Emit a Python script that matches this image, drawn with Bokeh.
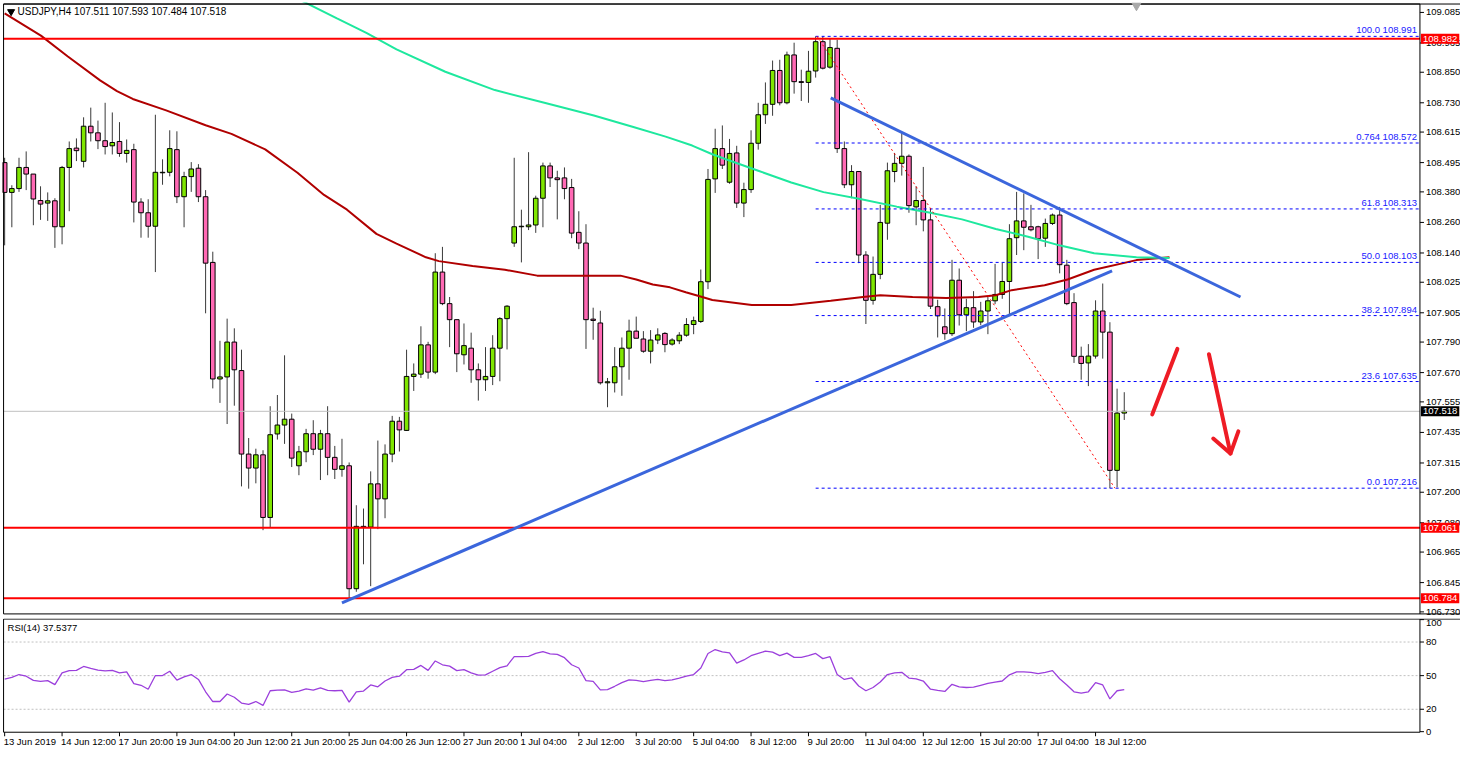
from bokeh.plotting import figure
from bokeh.layouts import column
from bokeh.models import Range1d, Label
from bokeh.embed import file_html
from bokeh.resources import INLINE
from bokeh.core.properties import value

# ---------------- data (USDJPY H4) ----------------
opens = [108.495,108.378,108.393,108.476,108.450,108.346,108.336,108.345,108.243,108.476,
         108.552,108.500,108.638,108.612,108.581,108.561,108.578,108.531,108.546,108.340,
         108.298,108.245,108.455,108.457,108.546,108.361,108.440,108.473,108.361,108.103,
         107.645,107.653,107.790,107.678,107.350,107.295,107.347,107.101,107.429,107.464,
         107.487,107.304,107.359,107.430,107.369,107.430,107.337,107.290,107.304,106.821,
         107.066,107.063,107.233,107.174,107.350,107.479,107.443,107.655,107.664,107.779,
         107.672,108.065,107.941,107.878,107.740,107.766,107.681,107.642,107.655,107.766,
         107.882,108.179,108.243,108.243,108.250,108.355,108.482,108.435,108.435,108.397,
         108.221,108.179,107.880,107.865,107.630,107.630,107.693,107.766,107.833,107.802,
         107.754,107.798,107.824,107.782,107.795,107.817,107.859,107.871,108.027,108.431,
         108.550,108.418,108.533,108.336,108.389,108.571,108.683,108.724,108.857,108.730,
         108.918,108.813,108.810,108.855,108.970,108.870,108.944,108.550,108.408,108.460,
         108.132,107.954,108.056,108.257,108.460,108.492,108.520,108.321,108.346,108.270,
         107.929,107.850,107.823,108.033,107.897,107.925,107.869,107.912,107.952,107.977,
         108.028,108.200,108.266,108.243,108.243,108.198,108.256,108.289,108.092,107.945,
         107.734,107.708,107.735,107.912,107.829,107.286,107.511]
highs = [108.514,108.406,108.514,108.539,108.450,108.402,108.378,108.355,108.482,108.578,
         108.590,108.673,108.711,108.660,108.730,108.692,108.654,108.586,108.569,108.355,
         108.351,108.683,108.508,108.622,108.618,108.459,108.497,108.489,108.387,108.145,
         107.795,107.882,107.844,107.760,107.413,107.371,107.365,107.538,107.582,107.738,
         107.509,107.382,107.449,107.483,107.445,107.538,107.382,107.410,107.317,107.149,
         107.136,107.282,107.403,107.388,107.500,107.496,107.760,107.706,107.852,107.791,
         108.139,108.164,107.967,107.878,107.863,107.827,107.706,107.770,107.817,107.888,
         107.935,108.514,108.310,108.536,108.365,108.495,108.495,108.463,108.476,108.431,
         108.304,108.253,107.925,107.913,107.649,107.770,107.808,107.878,107.890,107.833,
         107.837,107.844,107.829,107.805,107.829,107.884,107.890,108.075,108.470,108.628,
         108.641,108.588,108.561,108.416,108.622,108.730,108.810,108.896,108.899,108.931,
         108.966,108.860,108.934,108.991,108.991,108.981,108.978,108.578,108.485,108.460,
         108.147,108.126,108.329,108.495,108.533,108.612,108.527,108.402,108.478,108.313,
         107.956,107.922,108.113,108.079,107.960,107.990,107.948,107.967,108.097,108.101,
         108.253,108.380,108.374,108.329,108.247,108.275,108.295,108.321,108.113,107.982,
         107.772,107.782,107.954,108.020,107.868,107.607,107.593]
lows = [108.170,108.241,108.380,108.387,108.249,108.270,108.266,108.160,108.174,108.304,
        108.501,108.476,108.578,108.548,108.527,108.527,108.518,108.495,108.260,108.200,
        108.200,108.065,108.408,108.441,108.336,108.241,108.380,108.340,107.903,107.608,
        107.551,107.468,107.540,107.223,107.214,107.235,107.051,107.063,107.407,107.390,
        107.299,107.267,107.318,107.346,107.248,107.267,107.252,107.261,106.784,106.809,
        106.917,106.831,107.055,107.098,107.318,107.360,107.441,107.598,107.649,107.646,
        107.664,107.935,107.770,107.672,107.702,107.630,107.560,107.598,107.621,107.636,
        107.761,108.164,108.103,108.230,108.219,108.241,108.399,108.272,108.351,108.198,
        108.155,107.763,107.799,107.623,107.534,107.592,107.579,107.642,107.805,107.748,
        107.706,107.782,107.750,107.776,107.782,107.811,107.821,107.865,107.998,108.376,
        108.470,108.412,108.317,108.281,108.376,108.546,108.647,108.679,108.720,108.724,
        108.766,108.737,108.730,108.829,108.861,108.864,108.533,108.395,108.355,108.100,
        107.861,107.937,108.037,108.192,108.418,108.444,108.298,108.249,108.225,107.920,
        107.808,107.799,107.814,107.855,107.833,107.846,107.856,107.821,107.939,107.960,
        107.897,108.132,108.151,108.225,108.116,108.164,108.250,108.060,107.935,107.708,
        107.642,107.617,107.725,107.725,107.216,107.219,107.484]
closes = [108.378,108.393,108.476,108.450,108.352,108.332,108.345,108.243,108.476,108.550,
          108.542,108.638,108.612,108.581,108.558,108.574,108.531,108.543,108.340,108.298,
          108.245,108.457,108.457,108.550,108.361,108.440,108.470,108.361,108.100,107.645,
          107.653,107.790,107.681,107.350,107.295,107.347,107.101,107.426,107.464,107.487,
          107.334,107.359,107.430,107.369,107.430,107.337,107.290,107.304,106.821,107.066,
          107.063,107.233,107.174,107.350,107.479,107.445,107.655,107.664,107.779,107.672,
          108.065,107.941,107.878,107.744,107.776,107.681,107.642,107.655,107.766,107.882,
          107.931,108.243,108.245,108.250,108.355,108.482,108.435,108.428,108.393,108.218,
          108.179,107.878,107.875,107.630,107.634,107.693,107.766,107.833,107.805,107.754,
          107.798,107.818,107.780,107.798,107.817,107.859,107.874,108.027,108.429,108.550,
          108.485,108.531,108.336,108.389,108.571,108.683,108.724,108.857,108.730,108.918,
          108.813,108.810,108.854,108.970,108.866,108.947,108.550,108.408,108.460,108.132,
          107.954,108.056,108.260,108.463,108.492,108.520,108.326,108.346,108.270,107.931,
          107.893,107.823,108.033,107.897,107.925,107.869,107.912,107.952,107.977,108.028,
          108.196,108.266,108.241,108.231,108.196,108.256,108.289,108.094,107.941,107.734,
          107.706,107.735,107.912,107.829,107.286,107.511,107.518]

rsi = [46.9,48.4,51.0,49.5,45.8,44.9,45.5,42.0,52.4,54.5,
       54.7,58.2,56.5,55.0,54.2,54.7,52.4,53.3,42.9,41.4,
       37.9,50.1,50.1,53.9,46.0,48.9,51.0,46.6,35.6,26.9,
       26.9,33.6,30.7,25.5,24.3,26.9,23.4,36.5,37.1,37.3,
       35.0,36.2,38.2,37.1,39.1,36.8,36.5,36.8,26.3,35.6,
       36.2,41.7,40.0,45.2,48.4,49.5,55.3,55.6,59.1,54.7,
       63.1,59.7,58.5,54.5,55.3,52.4,50.4,50.7,53.9,57.1,
       58.8,66.9,66.9,67.2,69.8,71.5,69.5,68.9,66.0,59.7,
       56.8,45.5,44.9,37.3,37.6,40.5,43.7,46.3,45.8,44.6,
       45.8,46.6,45.5,46.3,47.8,49.5,51.0,56.8,69.8,73.3,
       71.3,70.4,61.1,64.0,67.8,69.8,71.8,71.0,67.8,70.1,
       66.3,66.3,67.8,69.8,65.2,66.9,51.0,46.6,48.1,40.8,
       36.5,39.4,44.3,51.0,52.4,53.0,47.8,47.2,45.2,37.9,
       36.8,35.9,42.3,40.0,39.4,39.7,41.4,43.1,44.3,45.2,
       50.7,53.3,53.3,53.0,51.8,53.0,54.5,47.2,41.7,35.6,
       34.4,35.6,43.7,41.7,29.2,36.5,37.5]

# moving averages (bar position, price)
ma_red_x = [0,5.05,8.76,13.3,15.65,17.85,22.5,28.0,31.6,36.3,40.8,44.5,47.7,51.8,54.6,58.7,60.5,
            65.2,69.7,74.2,78.9,83.4,85.8,88.0,90.3,92.7,94.9,97.2,98.6,104.1,109.6,115.1,119.6,
            122.0,126.5,131.2,135.7,138.1,140.3,144.9,148.1,151.8,157.7,162.3]
ma_red_y = [109.081,108.994,108.913,108.818,108.776,108.745,108.700,108.642,108.608,108.547,
            108.455,108.368,108.310,108.215,108.177,108.123,108.108,108.089,108.074,108.051,
            108.051,108.051,108.051,108.036,108.016,108.005,107.986,107.967,107.955,107.936,
            107.936,107.952,107.967,107.974,107.967,107.963,107.967,107.974,107.994,108.013,
            108.036,108.074,108.112,108.123]
ma_green_x = [40.8,46.3,50.4,54.6,61.4,68.3,75.2,82.1,87.6,92.1,95.8,98.6,100.4,105.0,109.6,
              114.1,119.2,124.3,128.8,133.4,138.1,142.6,147.1,151.8,157.7,162.3]
ma_green_y = [109.139,109.062,109.005,108.940,108.852,108.780,108.730,108.680,108.635,108.597,
              108.562,108.528,108.509,108.463,108.417,108.379,108.352,108.322,108.299,108.272,
              108.234,108.204,108.169,108.139,108.123,108.120]

# horizontal levels
red_levels = [108.982, 107.061, 106.784]
last_price = 107.518
fib_start = 113
fib_ratios = ["100.0", "0.764", "61.8", "50.0", "38.2", "23.6", "0.0"]
fib_levels = [108.991, 108.572, 108.313, 108.103, 107.894, 107.635, 107.216]
fib_diag_x = [113.2, 154.7]
fib_diag_y = [108.991, 107.216]

# trend lines
trend_up_x = [47.0, 154.3]
trend_up_y = [106.765, 108.070]
trend_down_x = [115.1, 172.2]
trend_down_y = [108.749, 107.967]

# hand-drawn red arrows
arrow_up_x = [159.9, 163.4]
arrow_up_y = [107.506, 107.763]
arrow_dn_x = [167.8, 170.8]
arrow_dn_y = [107.742, 107.352]
arrow_head_x = [168.4, 170.8, 171.9]
arrow_head_y = [107.411, 107.352, 107.439]

price_ticks = [109.085, 108.965, 108.850, 108.730, 108.615, 108.495, 108.380, 108.260, 108.140,
               108.025, 107.905, 107.790, 107.670, 107.555, 107.435, 107.315, 107.200, 107.080,
               106.965, 106.845, 106.730]
rsi_ticks = [0, 20, 50, 80, 100]
rsi_levels = [20, 50, 80]
date_ticks = list(range(0, 153, 8))
date_labels = ["13 Jun 2019", "14 Jun 12:00", "17 Jun 20:00", "19 Jun 04:00", "20 Jun 12:00",
               "21 Jun 20:00", "25 Jun 04:00", "26 Jun 12:00", "27 Jun 20:00", "1 Jul 04:00",
               "2 Jul 12:00", "3 Jul 20:00", "5 Jul 04:00", "8 Jul 12:00", "9 Jul 20:00",
               "11 Jul 04:00", "12 Jul 12:00", "15 Jul 20:00", "17 Jul 04:00", "18 Jul 12:00"]
header = "USDJPY,H4  107.511 107.593 107.484 107.518"
rsi_header = "RSI(14) 37.5377"

# ---------------- styling / geometry ----------------
FONT = "Liberation Sans"
FS = "9.5px"
BULL = "#7fe600"
BEAR = "#ff69b4"
WICK = "#3a3a3a"

n = len(opens)
idx = list(range(n))
x_left = -0.15          # left border of the chart (bars)
x_end = 197.2           # right border of the chart = price axis line
x_full = 202.85         # end of the drawing area (incl. price scale)
tick_len = 0.56         # 4 px in bar units
p_top, p_bot = 109.118, 106.722
r_top, r_bot = 100.5, -0.5
xr = Range1d(-0.3, x_full)

# ---------------- main panel ----------------
main = figure(frame_width=1458, frame_height=616, x_range=xr,
              y_range=Range1d(106.704, 109.124), x_axis_location=None, y_axis_location=None,
              output_backend="svg", toolbar_location=None,
              min_border_left=2, min_border_top=2, min_border_bottom=0, min_border_right=0)
main.grid.visible = False
main.outline_line_color = None
main.background_fill_color = "white"

# candles
tops = [max(o, c) for o, c in zip(opens, closes)]
bots = [min(o, c) for o, c in zip(opens, closes)]
cols = [BULL if c >= o else BEAR for o, c in zip(opens, closes)]
main.segment(x0=idx, y0=lows, x1=idx, y1=highs, line_color=WICK, line_width=1)
main.vbar(x=idx, top=tops, bottom=bots, width=0.64, fill_color=cols, line_color="black",
          line_width=1)

# moving averages
main.line(ma_red_x, ma_red_y, line_color="#b00000", line_width=2)
main.line(ma_green_x, ma_green_y, line_color="#1ee89e", line_width=2)

# last price and red horizontal levels
main.segment(x0=[x_left], y0=[last_price], x1=[x_end], y1=[last_price], line_color="#c0c0c0",
             line_width=1)
main.segment(x0=[x_left] * 3, y0=red_levels, x1=[x_end] * 3, y1=red_levels,
             line_color="#ff0000", line_width=2)

# fibonacci
main.segment(x0=[fib_start] * len(fib_levels), y0=fib_levels, x1=[x_end] * len(fib_levels),
             y1=fib_levels, line_color="#0000ff", line_width=1, line_dash="3 3")
main.line(fib_diag_x, fib_diag_y, line_color="#ff0000", line_width=1, line_dash="2 3")
main.text(x=[x_end] * len(fib_levels), y=fib_levels, x_offset=-3, y_offset=-1,
          text=[f"{r} {lv:.3f}" for r, lv in zip(fib_ratios, fib_levels)],
          text_align="right", text_baseline="bottom", text_color="#2020ff",
          text_font=value(FONT), text_font_size=value(FS))

# trend lines
main.line(trend_up_x, trend_up_y, line_color="#3b66dc", line_width=3)
main.line(trend_down_x, trend_down_y, line_color="#3b66dc", line_width=3)

# arrows
main.multi_line(xs=[arrow_up_x, arrow_dn_x, arrow_head_x], ys=[arrow_up_y, arrow_dn_y, arrow_head_y],
                line_color="#ee1c25", line_width=4, line_cap="round", line_join="round")

# frame of the price panel
main.line([x_left, x_left, x_end, x_end], [p_bot, p_top, p_top, p_bot], line_color="black",
          line_width=1)
main.line([x_left, x_full], [p_top, p_top], line_color="black", line_width=1)
main.line([x_left, x_full], [p_bot, p_bot], line_color="black", line_width=1)

# price scale
main.segment(x0=[x_end] * len(price_ticks), y0=price_ticks, x1=[x_end + tick_len] * len(price_ticks),
             y1=price_ticks, line_color="black", line_width=1)
main.text(x=[x_end + tick_len] * len(price_ticks), y=price_ticks, x_offset=2,
          text=[f"{t:.3f}" for t in price_ticks], text_align="left", text_baseline="middle",
          text_color="black", text_font=value(FONT), text_font_size=value(FS))

# header and markers
main.scatter(x=[0.9], y=[109.088], marker="inverted_triangle", size=7, color="black")
main.scatter(x=[157.7], y=[109.112], marker="inverted_triangle", size=9, color="#a9a9a9")
main.text(x=[1.8], y=[109.088], text=[header], text_baseline="middle", text_align="left",
          text_font=value(FONT), text_font_size=value("10px"), text_color="black")

# price boxes on the scale
for lv in red_levels:
    main.add_layout(Label(x=x_end, y=lv, x_offset=1, text=f"{lv:.3f}", text_baseline="middle",
                          text_align="left", text_font=FONT, text_font_size=FS,
                          text_color="white", background_fill_color="#ff0000", padding=2))
main.add_layout(Label(x=x_end, y=last_price, x_offset=1, text=f"{last_price:.3f}",
                      text_baseline="middle", text_align="left", text_font=FONT,
                      text_font_size=FS, text_color="white", background_fill_color="black",
                      padding=2))

# ---------------- RSI panel ----------------
rp = figure(frame_width=1458, frame_height=134, x_range=xr, y_range=Range1d(-18.6, 101.0),
            x_axis_location=None, y_axis_location=None, output_backend="svg",
            toolbar_location=None, min_border_left=2, min_border_top=0, min_border_bottom=0,
            min_border_right=0)
rp.grid.visible = False
rp.outline_line_color = None

rp.segment(x0=[x_left] * 3, y0=rsi_levels, x1=[x_end] * 3, y1=rsi_levels, line_color="#c0c0c0",
           line_width=1, line_dash="2 2")
rp.line(idx, rsi, line_color="#9b3fdc", line_width=1.3)
rp.text(x=[0.4], y=[93], text=[rsi_header], text_baseline="middle", text_align="left",
        text_font=value(FONT), text_font_size=value(FS), text_color="black")

# frame of the RSI panel
rp.line([x_left, x_left, x_end, x_end, x_left], [r_top, r_bot, r_bot, r_top, r_top],
        line_color="black", line_width=1)
rp.line([x_end, x_full], [r_top, r_top], line_color="black", line_width=1)

# RSI scale (top label kept inside the panel, as on the original)
rp.segment(x0=[x_end] * len(rsi_ticks), y0=rsi_ticks, x1=[x_end + tick_len] * len(rsi_ticks),
           y1=rsi_ticks, line_color="black", line_width=1)
rp.text(x=[x_end + tick_len] * (len(rsi_ticks) - 1), y=rsi_ticks[:-1], x_offset=2,
        text=[str(t) for t in rsi_ticks[:-1]], text_align="left", text_baseline="middle",
        text_color="black", text_font=value(FONT), text_font_size=value(FS))
rp.text(x=[x_end + tick_len], y=[rsi_ticks[-1]], x_offset=2, text=[str(rsi_ticks[-1])],
        text_align="left", text_baseline="top", text_color="black",
        text_font=value(FONT), text_font_size=value(FS))

# time scale
rp.segment(x0=date_ticks, y0=[r_bot] * len(date_ticks), x1=date_ticks,
           y1=[r_bot - 3.6] * len(date_ticks), line_color="black", line_width=1)
rp.text(x=date_ticks, y=[r_bot - 8] * len(date_ticks), x_offset=-1, text=date_labels,
        text_align="left", text_baseline="middle", text_color="black",
        text_font=value(FONT), text_font_size=value(FS))

layout = column(main, rp)
open("out.html", "w").write(file_html(layout, INLINE))
